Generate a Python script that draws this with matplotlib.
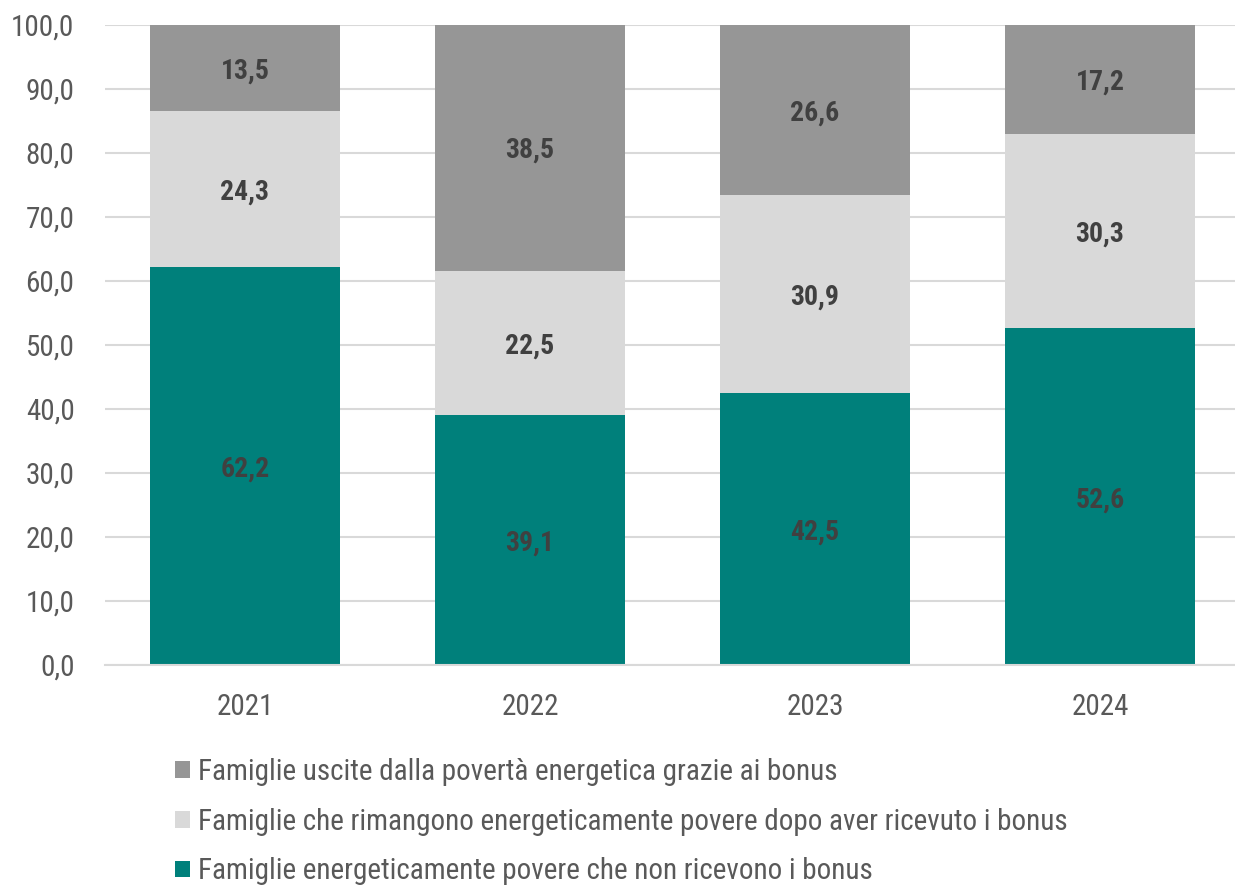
import matplotlib

matplotlib.use("Agg")
import matplotlib.pyplot as plt  # noqa: E402
from matplotlib import font_manager  # noqa: E402
from matplotlib.patches import Patch  # noqa: E402

years = ["2021", "2022", "2023", "2024"]
non_ricevono = [62.2, 39.1, 42.5, 52.6]
rimangono = [24.3, 22.5, 30.9, 30.3]
uscite = [13.5, 38.5, 26.6, 17.2]

series_labels = [
    "Famiglie energeticamente povere che non ricevono i bonus",
    "Famiglie che rimangono energeticamente povere dopo aver ricevuto i bonus",
    "Famiglie uscite dalla povertà energetica grazie ai bonus",
]
colors = ["#00807B", "#D9D9D9", "#969696"]

# the original uses Arial Narrow; take a narrow face if one is installed
available = {f.name for f in font_manager.fontManager.ttflist}
narrow = [n for n in ["Roboto Condensed", "Liberation Sans Narrow", "DejaVu Sans Condensed"]
          if n in available]
if narrow:
    family, fs, fs_bold = narrow[0], 21, 20
else:
    family, fs, fs_bold = "Liberation Sans", 19, 19
plt.rcParams["font.family"] = [family, "DejaVu Sans"]


def fmt(v):
    return f"{v:.1f}".replace(".", ",")


fig = plt.figure(figsize=(12.35, 8.85), dpi=100)
ax = fig.add_axes([105 / 1235, 220 / 885, 1130 / 1235, 640 / 885])

x = list(range(len(years)))
bottom = [0.0] * len(years)
for vals, col in zip([non_ricevono, rimangono, uscite], colors):
    bars = ax.bar(x, vals, width=0.667, bottom=bottom, color=col, zorder=2)
    for b, v, b0 in zip(bars, vals, bottom):
        ax.text(b.get_x() + b.get_width() / 2, b0 + v / 2, fmt(v),
                ha="center", va="center_baseline", fontsize=fs_bold,
                fontweight="bold", color="#404040", zorder=3)
    bottom = [a + b for a, b in zip(bottom, vals)]

ax.set_xlim(-0.491, 3.474)
ax.set_ylim(0, 100)
ax.set_yticks(range(0, 101, 10))
ax.set_yticklabels([fmt(t) for t in range(0, 101, 10)])
ax.set_xticks(x)
ax.set_xticklabels(years)
ax.tick_params(axis="both", length=0, labelsize=fs, labelcolor="#595959")
ax.tick_params(axis="y", pad=22)
ax.tick_params(axis="x", pad=20)
ax.grid(axis="y", color="#D9D9D9", linewidth=1.5, zorder=0)
for s in ["top", "right", "left"]:
    ax.spines[s].set_visible(False)
ax.spines["bottom"].set_color("#D9D9D9")
ax.spines["bottom"].set_linewidth(1.5)

handles = [Patch(facecolor=c) for c in colors][::-1]
fig.legend(handles, series_labels[::-1], loc="upper left",
           bbox_to_anchor=(175 / 1235, 1 - 758 / 885), frameon=False,
           fontsize=fs, labelcolor="#595959", handlelength=0.5,
           handleheight=0.5, handletextpad=0.3, labelspacing=0.74,
           borderaxespad=0, borderpad=0)

fig.savefig("out.png", dpi=100)
